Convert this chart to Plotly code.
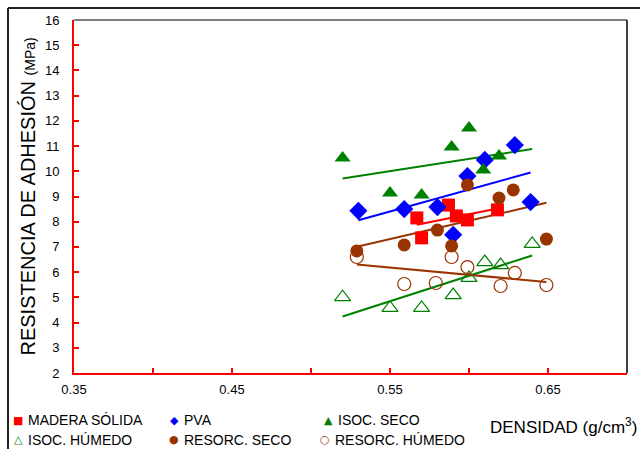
import numpy as np
import plotly.graph_objects as go

# Density (g/cm3) and bond strength (MPa) per adhesive / condition
madera_x = [0.567, 0.570, 0.587, 0.592, 0.599, 0.618]
madera_y = [8.15, 7.36, 8.66, 8.23, 8.07, 8.47]

pva_x = [0.530, 0.559, 0.580, 0.590, 0.599, 0.610, 0.629, 0.639]
pva_y = [8.43, 8.50, 8.58, 7.48, 9.81, 10.45, 11.04, 8.78]

isoc_seco_x = [0.520, 0.550, 0.570, 0.589, 0.600, 0.609, 0.619]
isoc_seco_y = [10.53, 9.14, 9.06, 10.96, 11.72, 10.05, 10.61]

isoc_hum_x = [0.520, 0.550, 0.570, 0.590, 0.600, 0.610, 0.620, 0.640]
isoc_hum_y = [5.01, 4.58, 4.58, 5.09, 5.77, 6.40, 6.28, 7.12]

res_seco_x = [0.529, 0.559, 0.580, 0.589, 0.599, 0.619, 0.628, 0.649]
res_seco_y = [6.84, 7.08, 7.67, 7.04, 9.46, 8.94, 9.26, 7.31]

res_hum_x = [0.529, 0.559, 0.579, 0.589, 0.599, 0.620, 0.629, 0.649]
res_hum_y = [6.60, 5.53, 5.57, 6.60, 6.20, 5.45, 5.97, 5.49]

x_ticks = [0.35, 0.45, 0.55, 0.65]
x_tick_labels = ["0.35", "0.45", "0.55", "0.65"]
y_ticks = list(range(2, 17))

RED = "#FF0000"
BLUE = "#0000FF"
GREEN = "#008000"
BROWN = "#993300"
FONT = "Liberation Sans, Arial, sans-serif"

# name, x, y, colour, symbol, size, trend span (x values)
series = [
    ("MADERA SÓLIDA", madera_x, madera_y, RED, "square", 13, madera_x),
    ("PVA", pva_x, pva_y, BLUE, "diamond", 14, pva_x),
    ("ISOC. SECO", isoc_seco_x, isoc_seco_y, GREEN, "triangle-up", 14, isoc_hum_x),
    ("ISOC. HÚMEDO", isoc_hum_x, isoc_hum_y, GREEN, "triangle-up-open", 14, isoc_hum_x),
    ("RESORC. SECO", res_seco_x, res_seco_y, BROWN, "circle", 13, res_seco_x),
    ("RESORC. HÚMEDO", res_hum_x, res_hum_y, BROWN, "circle-open", 13, res_hum_x),
]

fig = go.Figure()

# Linear trend lines
for name, xs, ys, col, sym, size, span in series:
    slope, icpt = np.polyfit(xs, ys, 1)
    tx = np.array([min(span), max(span)])
    fig.add_trace(go.Scatter(
        x=tx, y=slope * tx + icpt, mode="lines",
        line=dict(color=col, width=2), showlegend=False, hoverinfo="skip"))

# Measured points
for name, xs, ys, col, sym, size, span in series:
    open_mark = sym.endswith("open")
    fig.add_trace(go.Scatter(
        x=xs, y=ys, mode="markers", name=name, showlegend=False,
        marker=dict(symbol=sym, size=size, color=col,
                    line=dict(color=col, width=1.2 if open_mark else 0))))

W, H = 640, 449
ML, MR, MT, MB = 74, 13, 20, 76
PW, PH = W - ML - MR, H - MT - MB


def px(x):
    return (x - ML) / PW


def py(y):
    return (H - MB - y) / PH


annotations = []

# Legend built from coloured glyphs and labels
legend_items = [
    ("■", RED, "MADERA SÓLIDA", 18, 420),
    ("◆", BLUE, "PVA", 174, 420),
    ("▲", GREEN, "ISOC. SECO", 328, 420),
    ("△", GREEN, "ISOC. HÚMEDO", 18, 440),
    ("●", BROWN, "RESORC. SECO", 174, 440),
    ("○", BROWN, "RESORC. HÚMEDO", 325, 440),
]
for glyph, col, label, gx, gy in legend_items:
    annotations.append(dict(
        x=px(gx), y=py(gy), xref="paper", yref="paper", text=glyph,
        showarrow=False, xanchor="center", yanchor="middle",
        font=dict(family="DejaVu Sans", size=11, color=col)))
    annotations.append(dict(
        x=px(gx + 8), y=py(gy), xref="paper", yref="paper", text=label,
        showarrow=False, xanchor="left", yanchor="middle",
        font=dict(family=FONT, size=14, color="black")))

# Axis titles
annotations.append(dict(
    x=px(639), y=py(426), xref="paper", yref="paper",
    text="DENSIDAD (g/cm<sup>3</sup>)", showarrow=False,
    xanchor="right", yanchor="middle",
    font=dict(family=FONT, size=17, color="black")))
annotations.append(dict(
    x=px(27), y=0.5, xref="paper", yref="paper", textangle=-90,
    text="RESISTENCIA DE ADHESIÓN <span style='font-size:14px'>(MPa)</span>",
    showarrow=False, xanchor="center", yanchor="middle",
    font=dict(family=FONT, size=20, color="black")))

shapes = [
    # top and right edges of the plotting area
    dict(type="line", xref="paper", yref="paper", x0=0, x1=1, y0=1, y1=1,
         line=dict(color="black", width=1)),
    dict(type="line", xref="paper", yref="paper", x0=1, x1=1, y0=0, y1=1,
         line=dict(color="black", width=1.5)),
    # outer frame
    dict(type="line", xref="paper", yref="paper", x0=px(8), x1=px(W + 2),
         y0=py(8), y1=py(8), line=dict(color="#222222", width=2)),
    dict(type="line", xref="paper", yref="paper", x0=px(8), x1=px(8),
         y0=py(8), y1=py(H + 2), line=dict(color="#222222", width=2)),
]

fig.update_layout(
    width=W, height=H,
    margin=dict(l=ML, r=MR, t=MT, b=MB),
    paper_bgcolor="white", plot_bgcolor="white",
    font=dict(family=FONT, size=13, color="black"),
    annotations=annotations, shapes=shapes,
    xaxis=dict(range=[0.35, 0.70], tickvals=x_ticks, ticktext=x_tick_labels,
               showgrid=False, zeroline=False, showline=True,
               linecolor=RED, linewidth=2, ticks="inside", tickcolor=RED,
               ticklen=5, tickwidth=1.5, tickfont=dict(size=13),
               ticklabelstandoff=3,
               minor=dict(ticks="inside", tick0=0.35, dtick=0.05,
                          ticklen=5, tickwidth=1.5, tickcolor=RED,
                          showgrid=False)),
    yaxis=dict(range=[2, 16], tickvals=y_ticks, showgrid=False,
               zeroline=False, showline=True, linecolor=RED, linewidth=2,
               ticks="inside", tickcolor=RED, ticklen=5, tickwidth=1.5,
               tickfont=dict(size=13), ticklabelstandoff=10),
)

fig.write_html("out.html")
